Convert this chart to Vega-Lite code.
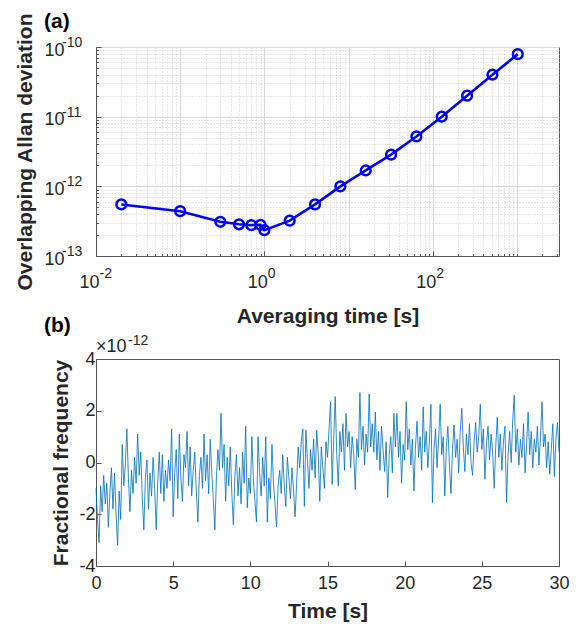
{
  "$schema": "https://vega.github.io/schema/vega-lite/v6.json",
  "padding": {"left": 14, "top": 10, "right": 6, "bottom": 4},
  "background": "white",
  "bounds": "flush",
  "spacing": 103,
  "config": {
    "font": "Liberation Sans",
    "view": {"stroke": "#555555", "strokeWidth": 1},
    "axis": {
      "labelFont": "Liberation Sans", "labelFontSize": 18, "labelColor": "#262626",
      "titleFont": "Liberation Sans", "titleFontSize": 21, "titleFontWeight": "bold", "titleColor": "#262626",
      "domainColor": "#555555", "tickColor": "#555555", "labelFlush": false, "labelOverlap": false
    },
    "title": {"anchor": "start", "frame": "group", "fontSize": 21, "fontWeight": "bold", "color": "#000000", "font": "Liberation Sans"}
  },
  "datasets": {
    "allan": [
      {"tau": 0.02, "adev": 5.5e-13},
      {"tau": 0.1, "adev": 4.4e-13},
      {"tau": 0.3, "adev": 3.1e-13},
      {"tau": 0.5, "adev": 2.85e-13},
      {"tau": 0.7, "adev": 2.77e-13},
      {"tau": 0.9, "adev": 2.8e-13},
      {"tau": 1, "adev": 2.35e-13},
      {"tau": 2, "adev": 3.22e-13},
      {"tau": 4, "adev": 5.5e-13},
      {"tau": 8, "adev": 1.0e-12},
      {"tau": 16, "adev": 1.69e-12},
      {"tau": 32, "adev": 2.85e-12},
      {"tau": 64, "adev": 5.2e-12},
      {"tau": 128, "adev": 1.0e-11},
      {"tau": 256, "adev": 2.0e-11},
      {"tau": 512, "adev": 4.0e-11},
      {"tau": 1024, "adev": 7.9e-11}
    ],
    "xexp": [{"tau": 0.01, "adev": 1e-13, "e": "-2"}, {"tau": 1, "adev": 1e-13, "e": "0"}, {"tau": 100, "adev": 1e-13, "e": "2"}],
    "yexp": [{"tau": 0.01, "adev": 1e-13, "e": "-13"}, {"tau": 0.01, "adev": 1e-12, "e": "-12"}, {"tau": 0.01, "adev": 1e-11, "e": "-11"}, {"tau": 0.01, "adev": 1e-10, "e": "-10"}],
    "freq": [
      {"t":0.0,"v":-1.0},{"t":0.1,"v":-2.2},{"t":0.2,"v":-3.1},{"t":0.3,"v":-0.9},{"t":0.4,"v":-1.9},{"t":0.5,"v":-0.5},{"t":0.6,"v":-1.6},{"t":0.7,"v":-0.8},{"t":0.8,"v":-2.5},{"t":0.9,"v":-1.2},
      {"t":1.0,"v":-0.2},{"t":1.1,"v":-1.8},{"t":1.2,"v":-0.4},{"t":1.3,"v":-2.0},{"t":1.4,"v":-3.2},{"t":1.5,"v":-1.1},{"t":1.6,"v":-2.2},{"t":1.7,"v":0.7},{"t":1.8,"v":-0.9},{"t":1.9,"v":-0.1},
      {"t":2.0,"v":1.3},{"t":2.1,"v":-0.6},{"t":2.2,"v":-1.9},{"t":2.3,"v":-0.3},{"t":2.4,"v":-1.2},{"t":2.5,"v":0.2},{"t":2.6,"v":-0.8},{"t":2.7,"v":1.1},{"t":2.8,"v":-0.5},{"t":2.9,"v":0.4},
      {"t":3.0,"v":-1.4},{"t":3.1,"v":-2.6},{"t":3.2,"v":-0.6},{"t":3.3,"v":0.1},{"t":3.4,"v":-1.8},{"t":3.5,"v":-0.4},{"t":3.6,"v":-1.3},{"t":3.7,"v":0.2},{"t":3.8,"v":-1.0},{"t":3.9,"v":-2.6},
      {"t":4.0,"v":-0.8},{"t":4.1,"v":0.4},{"t":4.2,"v":-1.2},{"t":4.3,"v":0.3},{"t":4.4,"v":-1.5},{"t":4.5,"v":-0.3},{"t":4.6,"v":-1.0},{"t":4.7,"v":0.1},{"t":4.8,"v":-0.7},{"t":4.9,"v":1.3},
      {"t":5.0,"v":-2.1},{"t":5.1,"v":-0.4},{"t":5.2,"v":0.5},{"t":5.3,"v":-1.4},{"t":5.4,"v":1.1},{"t":5.5,"v":-0.6},{"t":5.6,"v":-1.5},{"t":5.7,"v":0.3},{"t":5.8,"v":-0.2},{"t":5.9,"v":1.2},
      {"t":6.0,"v":-0.9},{"t":6.1,"v":0.6},{"t":6.2,"v":-1.3},{"t":6.3,"v":-0.3},{"t":6.4,"v":0.4},{"t":6.5,"v":-1.1},{"t":6.6,"v":-2.3},{"t":6.7,"v":-0.5},{"t":6.8,"v":0.2},{"t":6.9,"v":-1.0},
      {"t":7.0,"v":1.1},{"t":7.1,"v":-0.7},{"t":7.2,"v":0.3},{"t":7.3,"v":-1.2},{"t":7.4,"v":0.9},{"t":7.5,"v":-0.4},{"t":7.6,"v":-1.4},{"t":7.7,"v":-2.6},{"t":7.8,"v":-0.6},{"t":7.9,"v":0.5},
      {"t":8.0,"v":-0.3},{"t":8.1,"v":1.9},{"t":8.2,"v":-0.2},{"t":8.3,"v":0.7},{"t":8.4,"v":-1.5},{"t":8.5,"v":0.2},{"t":8.6,"v":-0.9},{"t":8.7,"v":0.6},{"t":8.8,"v":-1.2},{"t":8.9,"v":-2.4},
      {"t":9.0,"v":-0.5},{"t":9.1,"v":0.3},{"t":9.2,"v":-1.3},{"t":9.3,"v":-0.2},{"t":9.4,"v":-1.6},{"t":9.5,"v":0.4},{"t":9.6,"v":-0.8},{"t":9.7,"v":1.4},{"t":9.8,"v":-1.75},{"t":9.9,"v":-0.6},
      {"t":10.0,"v":-1.2},{"t":10.1,"v":1.0},{"t":10.2,"v":-0.7},{"t":10.3,"v":-1.5},{"t":10.4,"v":-2.3},{"t":10.5,"v":1.0},{"t":10.6,"v":-0.4},{"t":10.7,"v":-1.3},{"t":10.8,"v":0.2},{"t":10.9,"v":-0.9},
      {"t":11.0,"v":1.0},{"t":11.1,"v":-2.3},{"t":11.2,"v":-0.6},{"t":11.3,"v":-1.4},{"t":11.4,"v":0.7},{"t":11.5,"v":-0.8},{"t":11.6,"v":-1.6},{"t":11.7,"v":-2.5},{"t":11.8,"v":-0.9},{"t":11.9,"v":-0.3},
      {"t":12.0,"v":-1.2},{"t":12.1,"v":0.3},{"t":12.2,"v":-0.9},{"t":12.3,"v":-1.7},{"t":12.4,"v":0.2},{"t":12.5,"v":-0.6},{"t":12.6,"v":-1.4},{"t":12.7,"v":-0.2},{"t":12.8,"v":-1.1},{"t":12.9,"v":-2.1},
      {"t":13.0,"v":-0.8},{"t":13.1,"v":0.6},{"t":13.2,"v":-0.2},{"t":13.3,"v":0.8},{"t":13.4,"v":1.3},{"t":13.5,"v":-1.7},{"t":13.6,"v":1.25},{"t":13.7,"v":0.1},{"t":13.8,"v":-1.0},{"t":13.9,"v":0.5},
      {"t":14.0,"v":-0.3},{"t":14.1,"v":0.9},{"t":14.2,"v":-0.6},{"t":14.3,"v":1.25},{"t":14.4,"v":0.3},{"t":14.5,"v":-1.5},{"t":14.6,"v":0.6},{"t":14.7,"v":-0.2},{"t":14.8,"v":-1.0},{"t":14.9,"v":0.8},
      {"t":15.0,"v":0.2},{"t":15.1,"v":1.3},{"t":15.2,"v":2.35},{"t":15.3,"v":-0.85},{"t":15.4,"v":0.9},{"t":15.5,"v":2.55},{"t":15.6,"v":0.3},{"t":15.7,"v":-0.9},{"t":15.8,"v":1.2},{"t":15.9,"v":0.4},
      {"t":16.0,"v":1.5},{"t":16.1,"v":-0.3},{"t":16.2,"v":1.9},{"t":16.3,"v":0.6},{"t":16.4,"v":1.2},{"t":16.5,"v":-0.2},{"t":16.6,"v":1.0},{"t":16.7,"v":0.3},{"t":16.8,"v":-1.05},{"t":16.9,"v":0.9},
      {"t":17.0,"v":0.2},{"t":17.1,"v":2.7},{"t":17.2,"v":0.5},{"t":17.3,"v":1.4},{"t":17.4,"v":-0.1},{"t":17.5,"v":1.1},{"t":17.6,"v":0.4},{"t":17.7,"v":2.65},{"t":17.8,"v":0.6},{"t":17.9,"v":1.5},
      {"t":18.0,"v":0.4},{"t":18.1,"v":1.95},{"t":18.2,"v":0.1},{"t":18.3,"v":1.2},{"t":18.4,"v":-0.3},{"t":18.5,"v":1.4},{"t":18.6,"v":0.5},{"t":18.7,"v":-0.35},{"t":18.8,"v":0.8},{"t":18.9,"v":-1.35},
      {"t":19.0,"v":0.3},{"t":19.1,"v":1.0},{"t":19.2,"v":-0.4},{"t":19.3,"v":1.9},{"t":19.4,"v":0.6},{"t":19.5,"v":1.9},{"t":19.6,"v":0.2},{"t":19.7,"v":1.2},{"t":19.8,"v":-0.8},{"t":19.9,"v":0.7},
      {"t":20.0,"v":0.1},{"t":20.1,"v":2.35},{"t":20.2,"v":0.5},{"t":20.3,"v":1.3},{"t":20.4,"v":-0.1},{"t":20.5,"v":0.9},{"t":20.6,"v":-1.1},{"t":20.7,"v":0.6},{"t":20.8,"v":1.6},{"t":20.9,"v":0.2},
      {"t":21.0,"v":1.0},{"t":21.1,"v":-0.3},{"t":21.2,"v":2.15},{"t":21.3,"v":0.4},{"t":21.4,"v":1.2},{"t":21.5,"v":-0.2},{"t":21.6,"v":0.8},{"t":21.7,"v":2.25},{"t":21.8,"v":-1.55},{"t":21.9,"v":0.5},
      {"t":22.0,"v":1.3},{"t":22.1,"v":-0.2},{"t":22.2,"v":0.9},{"t":22.3,"v":2.25},{"t":22.4,"v":0.3},{"t":22.5,"v":1.0},{"t":22.6,"v":-1.3},{"t":22.7,"v":0.6},{"t":22.8,"v":1.4},{"t":22.9,"v":-0.1},
      {"t":23.0,"v":-1.2},{"t":23.1,"v":0.5},{"t":23.2,"v":1.45},{"t":23.3,"v":0.2},{"t":23.4,"v":0.9},{"t":23.5,"v":-0.4},{"t":23.6,"v":1.2},{"t":23.7,"v":2.1},{"t":23.8,"v":0.6},{"t":23.9,"v":-0.35},
      {"t":24.0,"v":1.1},{"t":24.1,"v":0.3},{"t":24.2,"v":1.5},{"t":24.3,"v":0.0},{"t":24.4,"v":-0.5},{"t":24.5,"v":0.8},{"t":24.6,"v":1.55},{"t":24.7,"v":0.4},{"t":24.8,"v":1.0},{"t":24.9,"v":2.25},
      {"t":25.0,"v":0.5},{"t":25.1,"v":1.3},{"t":25.2,"v":-0.65},{"t":25.3,"v":0.7},{"t":25.4,"v":1.4},{"t":25.5,"v":0.1},{"t":25.6,"v":1.1},{"t":25.7,"v":0.4},{"t":25.8,"v":-1.0},{"t":25.9,"v":0.6},
      {"t":26.0,"v":1.75},{"t":26.1,"v":0.2},{"t":26.2,"v":1.1},{"t":26.3,"v":-0.3},{"t":26.4,"v":0.8},{"t":26.5,"v":1.4},{"t":26.6,"v":-1.55},{"t":26.7,"v":0.3},{"t":26.8,"v":1.2},{"t":26.9,"v":0.0},
      {"t":27.0,"v":1.6},{"t":27.1,"v":2.6},{"t":27.2,"v":0.4},{"t":27.3,"v":1.3},{"t":27.4,"v":-0.1},{"t":27.5,"v":0.9},{"t":27.6,"v":0.2},{"t":27.7,"v":1.5},{"t":27.8,"v":-0.4},{"t":27.9,"v":0.7},
      {"t":28.0,"v":1.95},{"t":28.1,"v":0.3},{"t":28.2,"v":1.2},{"t":28.3,"v":-0.2},{"t":28.4,"v":0.9},{"t":28.5,"v":0.4},{"t":28.6,"v":1.4},{"t":28.7,"v":-0.1},{"t":28.8,"v":1.0},{"t":28.9,"v":2.35},
      {"t":29.0,"v":0.6},{"t":29.1,"v":1.1},{"t":29.2,"v":-0.2},{"t":29.3,"v":0.8},{"t":29.4,"v":-0.45},{"t":29.5,"v":0.5},{"t":29.6,"v":1.5},{"t":29.7,"v":-0.55},{"t":29.8,"v":0.9},{"t":29.9,"v":1.55},
      {"t":30.0,"v":0.4}
    ]
  },
  "vconcat": [
    {
      "width": 463,
      "height": 209,
      "title": {"text": "(a)", "dx": -52, "offset": -19},
      "encoding": {
        "x": {
          "field": "tau", "type": "quantitative",
          "scale": {"type": "log", "domain": [0.01, 3162.2777], "nice": false},
          "axis": {
            "title": "Averaging time [s]",
            "titlePadding": 12,
            "values": [0.01,0.02,0.03,0.04,0.05,0.06,0.07,0.08,0.09,0.1,0.2,0.3,0.4,0.5,0.6,0.7,0.8,0.9,1,2,3,4,5,6,7,8,9,10,20,30,40,50,60,70,80,90,100,200,300,400,500,600,700,800,900,1000,2000,3000],
            "labelExpr": "(datum.value === 0.01 || datum.value === 1 || datum.value === 100) ? '10' : ''",
            "labelOffset": -7,
            "grid": true,
            "gridColor": {"condition": {"test": "indexof([0.01,0.1,1,10,100,1000], datum.value) >= 0", "value": "#d9d9d9"}, "value": "#cfcfcf"},
            "gridDash": {"condition": {"test": "indexof([0.01,0.1,1,10,100,1000], datum.value) >= 0", "value": []}, "value": [1, 2]},
            "tickSize": {"condition": {"test": "indexof([0.01,1,100], datum.value) >= 0", "value": -5}, "value": -2.5},
            "labelPadding": 22
          }
        },
        "y": {
          "field": "adev", "type": "quantitative",
          "scale": {"type": "log", "domain": [1e-13, 1e-10], "nice": false},
          "axis": {
            "title": "Overlapping Allan deviation",
            "titlePadding": 8,
            "values": [1e-13,2e-13,3e-13,4e-13,5e-13,6e-13,7e-13,8e-13,9e-13,1e-12,2e-12,3e-12,4e-12,5e-12,6e-12,7e-12,8e-12,9e-12,1e-11,2e-11,3e-11,4e-11,5e-11,6e-11,7e-11,8e-11,9e-11,1e-10],
            "labelExpr": "indexof([1e-13,1e-12,1e-11,1e-10], datum.value) >= 0 ? '10' : ''",
            "labelOffset": 3,
            "grid": true,
            "gridColor": {"condition": {"test": "indexof([1e-13,1e-12,1e-11,1e-10], datum.value) >= 0", "value": "#d9d9d9"}, "value": "#cfcfcf"},
            "gridDash": {"condition": {"test": "indexof([1e-13,1e-12,1e-11,1e-10], datum.value) >= 0", "value": []}, "value": [1, 2]},
            "tickSize": {"condition": {"test": "indexof([1e-13,1e-12,1e-11,1e-10], datum.value) >= 0", "value": -5}, "value": -2.5},
            "labelPadding": 37
          }
        }
      },
      "layer": [
        {
          "data": {"name": "allan"},
          "mark": {
            "type": "line", "color": "#0000ff", "strokeWidth": 2.6,
            "point": {"filled": false, "stroke": "#0000ff", "strokeWidth": 2.5, "size": 95}
          }
        },
        {
          "data": {"name": "xexp"},
          "mark": {"type": "text", "align": "left", "baseline": "top", "dx": 3.5, "dy": 11, "fontSize": 14, "color": "#262626", "font": "Liberation Sans"},
          "encoding": {"text": {"field": "e", "type": "nominal"}}
        },
        {
          "data": {"name": "yexp"},
          "mark": {"type": "text", "align": "left", "baseline": "middle", "dx": -34, "dy": -4, "fontSize": 14, "color": "#262626", "font": "Liberation Sans"},
          "encoding": {"text": {"field": "e", "type": "nominal"}}
        }
      ]
    },
    {
      "width": 463,
      "height": 207,
      "title": {"text": "(b)", "dx": -52, "offset": -2},
      "layer": [
        {
          "data": {"name": "freq"},
          "mark": {"type": "line", "color": "#0072bd", "strokeWidth": 0.9, "opacity": 0.9},
          "encoding": {
            "x": {
              "field": "t", "type": "quantitative",
              "scale": {"domain": [0, 30], "nice": false},
              "axis": {"title": "Time [s]", "values": [0,5,10,15,20,25,30], "grid": false, "tickSize": -5, "labelPadding": 13, "titlePadding": 8}
            },
            "y": {
              "field": "v", "type": "quantitative",
              "scale": {"domain": [-4, 4], "nice": false},
              "axis": {"title": "Fractional frequency", "values": [-4,-2,0,2,4], "labelExpr": "'' + datum.value", "grid": false, "tickSize": -5, "labelPadding": 6, "titlePadding": 7}
            }
          }
        },
        {
          "data": {"values": [{"label": "×10"}]},
          "mark": {"type": "text", "align": "left", "baseline": "bottom", "dy": -3, "fontSize": 18, "color": "#262626", "font": "Liberation Sans"},
          "encoding": {"x": {"datum": 0}, "y": {"datum": 4}, "text": {"field": "label"}}
        },
        {
          "data": {"values": [{"label": "-12"}]},
          "mark": {"type": "text", "align": "left", "baseline": "bottom", "dx": 32, "dy": -11, "fontSize": 14, "color": "#262626", "font": "Liberation Sans"},
          "encoding": {"x": {"datum": 0}, "y": {"datum": 4}, "text": {"field": "label"}}
        }
      ]
    }
  ]
}
